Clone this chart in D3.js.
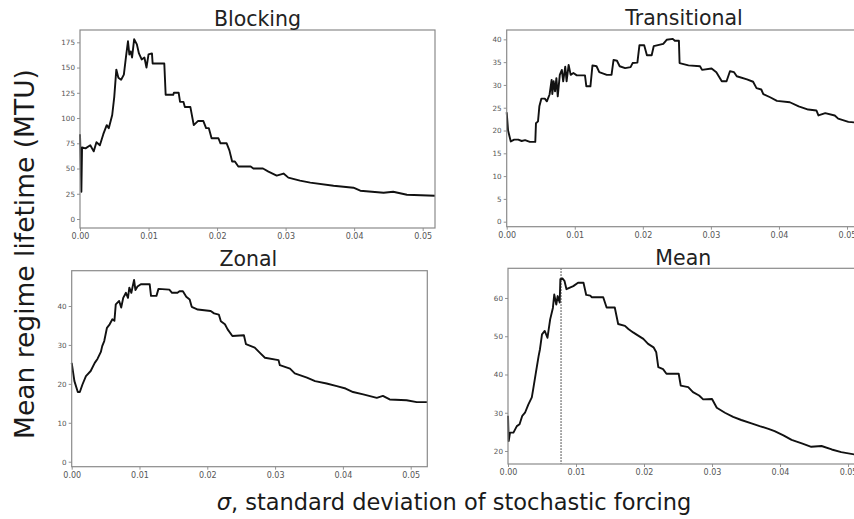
<!DOCTYPE html>
<html>
<head>
<meta charset="utf-8">
<script src="https://cdn.jsdelivr.net/npm/d3@7"></script>
<style>
  html, body { margin: 0; padding: 0; background: #fff; }
  svg { display: block; }
  .tick text { font-family: "DejaVu Sans", sans-serif; fill: #555; }
</style>
</head>
<body>
<svg id="chart" width="854" height="519"></svg>
<script>
// Mean regime lifetime (MTU) against forcing strength sigma, per regime
const sigmaBlocking = [0.0000,0.0002,0.0003,0.0008,0.0015,0.0020,0.0024,0.0029,0.0034,0.0039,0.0042,0.0047,0.0050,0.0053,0.0056,0.0060,0.0064,0.0067,0.0070,0.0072,0.0074,0.0076,0.0079,0.0083,0.0086,0.0090,0.0094,0.0097,0.0100,0.0105,0.0106,0.0123,0.0125,0.0136,0.0137,0.0144,0.0146,0.0151,0.0153,0.0161,0.0166,0.0172,0.0180,0.0184,0.0188,0.0192,0.0202,0.0205,0.0214,0.0218,0.0222,0.0226,0.0231,0.0249,0.0253,0.0267,0.0275,0.0287,0.0297,0.0304,0.0321,0.0336,0.0370,0.0399,0.0409,0.0443,0.0457,0.0477,0.0518];
const lifetimeBlocking = [84,27,71,70,73,67,76,73,84,93,90,103,121,148,140,138,143,160,176,163,166,160,178,173,164,158,160,150,163,164,154,154,123,123,125,125,116,116,111,111,93,97,97,90,90,80,80,75,75,68,57,57,52,52,50,50,47,43,45,41,38,36,33,31,28,26,27,24,23];

const sigmaTransitional = [0.0000,0.0002,0.0006,0.0011,0.0017,0.0022,0.0027,0.0034,0.0042,0.0043,0.0046,0.0048,0.0051,0.0056,0.0059,0.0063,0.0066,0.0067,0.0069,0.0071,0.0073,0.0075,0.0078,0.0081,0.0083,0.0086,0.0088,0.0091,0.0094,0.0098,0.0103,0.0115,0.0117,0.0123,0.0126,0.0132,0.0136,0.0147,0.0154,0.0157,0.0162,0.0166,0.0174,0.0182,0.0185,0.0192,0.0195,0.0202,0.0206,0.0213,0.0216,0.0230,0.0235,0.0244,0.0247,0.0253,0.0254,0.0267,0.0284,0.0287,0.0301,0.0308,0.0316,0.0323,0.0328,0.0334,0.0338,0.0353,0.0362,0.0367,0.0374,0.0377,0.0387,0.0397,0.0416,0.0429,0.0443,0.0455,0.0458,0.0468,0.0482,0.0487,0.0502,0.0522];
const lifetimeTransitional = [24,20,17.6,18,18,17.7,17.9,17.5,17.5,21.6,22,25.3,27,27,26.4,27.9,31.1,28,30.8,28.6,31.5,27.5,32.2,33.3,30.8,34,30.8,34.4,32.2,32.6,32.1,32.1,29.7,29.7,34.3,34.1,32.8,32.2,32.2,35.5,35.3,34.1,33.7,33.9,34.8,34.9,38.7,38.7,36.5,36.5,38.5,39,39.9,40.1,39.7,39.7,34.8,34.3,34.1,33.3,33.6,32.8,30.8,30.8,33,32.8,31.9,31.2,30.7,29.3,29,28,27.3,26.5,26.2,25.3,24.6,24.4,23.3,23.8,23.3,22.6,21.9,21.6];

const sigmaZonal = [0.0000,0.0004,0.0009,0.0012,0.0016,0.0021,0.0028,0.0034,0.0038,0.0043,0.0045,0.0048,0.0052,0.0056,0.0060,0.0063,0.0065,0.0070,0.0073,0.0076,0.0080,0.0083,0.0085,0.0088,0.0090,0.0092,0.0094,0.0097,0.0102,0.0115,0.0117,0.0125,0.0128,0.0144,0.0148,0.0156,0.0159,0.0164,0.0169,0.0174,0.0177,0.0186,0.0205,0.0210,0.0217,0.0220,0.0226,0.0230,0.0237,0.0254,0.0257,0.0270,0.0278,0.0285,0.0305,0.0307,0.0322,0.0329,0.0347,0.0359,0.0376,0.0391,0.0404,0.0415,0.0430,0.0450,0.0459,0.0469,0.0494,0.0509,0.0524];
const lifetimeZonal = [25.4,20.7,17.9,17.9,19.9,22,23.3,25.4,26.4,28.2,29.7,31,34.4,35.3,36.6,36.2,40.4,41.3,39.6,42.1,43.4,42.1,44.7,43.4,45.1,46.7,44.1,45,45.6,45.6,42.6,42.6,44.4,44.2,43.4,43.4,43.8,43.8,42.4,41.7,39.8,39.1,38.7,38.1,37.8,36.1,35.3,34,32.3,32.5,30.2,29.3,27.9,26.7,26.1,24.8,23.9,22.7,21.6,20.7,20.1,19.4,18.8,17.9,17.3,16.4,16.9,16,15.8,15.3,15.3];

const sigmaMean = [0.0000,0.0001,0.0003,0.0008,0.0013,0.0017,0.0021,0.0025,0.0030,0.0035,0.0037,0.0041,0.0045,0.0047,0.0050,0.0054,0.0058,0.0062,0.0066,0.0068,0.0071,0.0073,0.0076,0.0077,0.0080,0.0083,0.0086,0.0091,0.0096,0.0103,0.0111,0.0115,0.0121,0.0123,0.0140,0.0145,0.0157,0.0162,0.0172,0.0177,0.0184,0.0192,0.0199,0.0206,0.0214,0.0218,0.0221,0.0228,0.0233,0.0251,0.0254,0.0265,0.0272,0.0281,0.0287,0.0300,0.0307,0.0319,0.0331,0.0343,0.0358,0.0370,0.0383,0.0392,0.0405,0.0417,0.0432,0.0446,0.0461,0.0476,0.0490,0.0509,0.0522];
const lifetimeMean = [29.2,22.6,24.8,24.8,26.5,27,29.2,30,32.2,34,36.1,40.5,44.8,46.6,50.5,51.4,49.6,54.4,57.4,60.9,58.3,60.5,58.8,64.9,65.1,64.5,62.3,62.7,63.1,64,64,60.8,60.6,60.2,60.2,57.5,57.5,53.2,52.7,51.9,51,50.1,49.3,48,47.1,45.8,41.9,41.4,40.2,40.2,37.1,36.7,35.4,34.5,33.5,33.6,31.3,30,28.9,28.1,27.2,26.5,25.8,25.2,24.1,22.9,22,21.1,21.3,20.4,19.7,19.1,18.9];

// sigma at which the mean lifetime peaks (dotted marker)
const peakSigma = 0.0078;

const xTicks = [0, 0.01, 0.02, 0.03, 0.04, 0.05];
const yTicksBlocking = [0, 25, 50, 75, 100, 125, 150, 175];
const yTicksTransitional = [0, 5, 10, 15, 20, 25, 30, 35, 40];
const yTicksZonal = [0, 10, 20, 30, 40];
const yTicksMean = [20, 30, 40, 50, 60];

const titles = ["Blocking", "Transitional", "Zonal", "Mean"];

const panels = [
  { title: titles[0], sigma: sigmaBlocking, value: lifetimeBlocking, yTicks: yTicksBlocking,
    box: { l: 80, t: 30, r: 435, b: 228 }, xMax: 0.0518, yDom: [-8.9, 187.2], titleX: 257.5, titleY: 26 },
  { title: titles[1], sigma: sigmaTransitional, value: lifetimeTransitional, yTicks: yTicksTransitional,
    box: { l: 506.7, t: 30, r: 862, b: 226.7 }, xMax: 0.0522, yDom: [-1.1, 42.05], titleX: 684, titleY: 25 },
  { title: titles[2], sigma: sigmaZonal, value: lifetimeZonal, yTicks: yTicksZonal,
    box: { l: 71.7, t: 270.7, r: 427.3, b: 466.7 }, xMax: 0.05245, yDom: [-1.28, 49.07], titleX: 248.3, titleY: 266 },
  { title: titles[3], sigma: sigmaMean, value: lifetimeMean, yTicks: yTicksMean,
    box: { l: 508, t: 268.3, r: 863, b: 464 }, xMax: 0.0522, yDom: [16.6, 67.76], titleX: 683.3, titleY: 265, marker: peakSigma }
];

const svg = d3.select("#chart");

panels.forEach(p => {
  const x = d3.scaleLinear().domain([0, p.xMax]).range([p.box.l, p.box.r]);
  const y = d3.scaleLinear().domain(p.yDom).range([p.box.b, p.box.t]);
  const g = svg.append("g");

  // axes
  const xAxis = d3.axisBottom(x).tickValues(xTicks).tickFormat(d3.format(".2f")).tickSize(3).tickPadding(2.5);
  const yAxis = d3.axisLeft(y).tickValues(p.yTicks).tickSize(3).tickPadding(2);

  const gx = g.append("g").attr("transform", `translate(0,${p.box.b})`).call(xAxis);
  const gy = g.append("g").attr("transform", `translate(${p.box.l},0)`).call(yAxis);
  [gx, gy].forEach(a => {
    a.select(".domain").remove();
    a.selectAll(".tick line").attr("stroke", "#777").attr("stroke-width", 0.8);
  });
  gx.selectAll(".tick text").style("font-size", "8px");
  gy.selectAll(".tick text").style("font-size", "7.2px");

  // series line
  const line = d3.line().x((d, i) => x(p.sigma[i])).y(d => y(d));
  g.append("path")
    .datum(p.value)
    .attr("d", line)
    .attr("fill", "none")
    .attr("stroke", "#111")
    .attr("stroke-width", 1.9)
    .attr("stroke-linejoin", "round");

  if (p.marker !== undefined) {
    g.append("line")
      .attr("x1", x(p.marker)).attr("x2", x(p.marker))
      .attr("y1", p.box.t).attr("y2", p.box.b)
      .attr("stroke", "#222").attr("stroke-width", 1)
      .attr("stroke-dasharray", "1.5,1.5");
  }

  // frame
  g.append("rect")
    .attr("x", p.box.l).attr("y", p.box.t)
    .attr("width", p.box.r - p.box.l).attr("height", p.box.b - p.box.t)
    .attr("fill", "none").attr("stroke", "#8a8a8a").attr("stroke-width", 1.2);

  g.append("text")
    .attr("x", p.titleX).attr("y", p.titleY)
    .attr("text-anchor", "middle")
    .style("font-family", "DejaVu Sans, sans-serif")
    .style("font-size", "20.5px")
    .attr("fill", "#222")
    .text(p.title);
});

// shared axis labels
svg.append("text")
  .attr("transform", "translate(34,254) rotate(-90)")
  .attr("text-anchor", "middle")
  .style("font-family", "DejaVu Sans, sans-serif")
  .style("font-size", "26.5px")
  .attr("fill", "#1a1a1a")
  .text("Mean regime lifetime (MTU)");

const xl = svg.append("text")
  .attr("x", 454).attr("y", 510)
  .attr("text-anchor", "middle")
  .style("font-family", "DejaVu Sans, sans-serif")
  .style("font-size", "22.5px")
  .attr("fill", "#1a1a1a");
xl.append("tspan").style("font-style", "italic").text("σ");
xl.append("tspan").text(", standard deviation of stochastic forcing");
</script>
</body>
</html>
